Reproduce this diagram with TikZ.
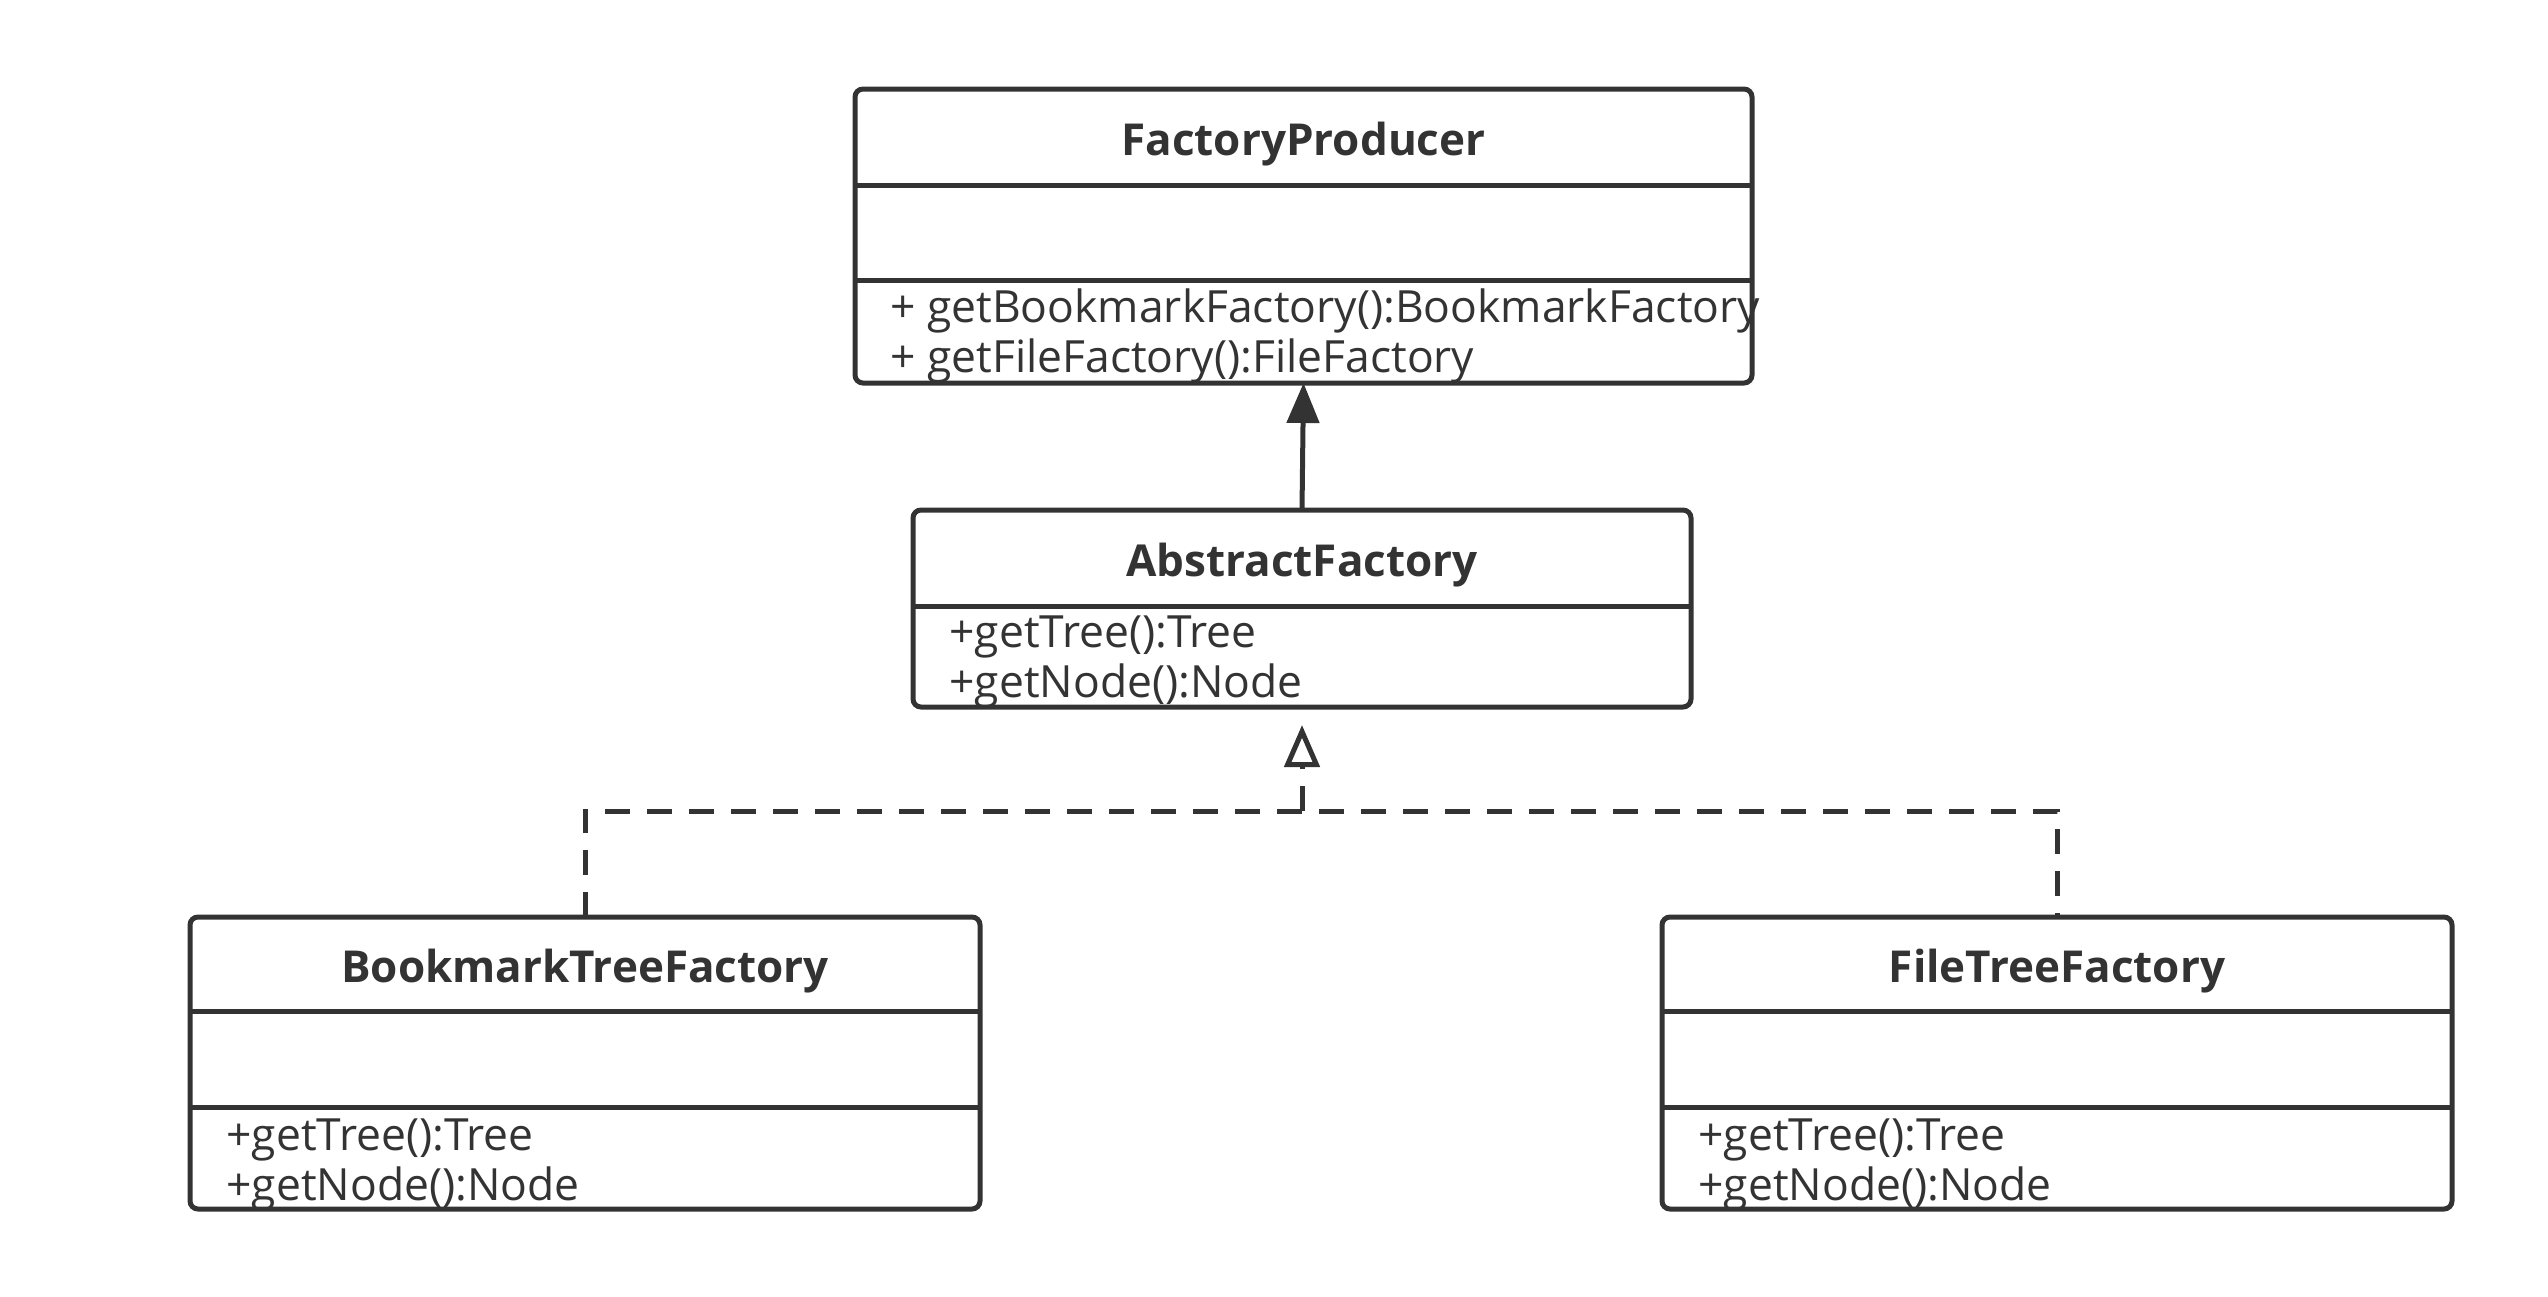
\documentclass[tikz,border=0pt]{standalone}
\usepackage{fontspec}
\setmainfont{Open Sans}
\usetikzlibrary{arrows.meta}
\definecolor{ink}{HTML}{333333}
\tikzset{
  umlbox/.style={draw=ink, line width=2.5pt, rounded corners=4pt, inner sep=0pt, outer sep=0pt, fill=white},
  divider/.style={draw=ink, line width=2.5pt},
  titletext/.style={anchor=base, inner sep=0pt, text=ink, font=\fontsize{22}{25}\selectfont\bfseries},
  membertext/.style={anchor=base west, inner sep=0pt, text=ink, font=\fontsize{22.2}{25}\selectfont},
  assoc/.style={draw=ink, line width=2.5pt, -{Triangle[length=20pt,width=16pt]}},
  realize/.style={draw=ink, line width=2.5pt, dash pattern=on 12.5pt off 8.5pt},
}
\begin{document}
\begin{tikzpicture}[x=0.5pt,y=-0.5pt]
\useasboundingbox (0,0) rectangle (2548,1296);
% FactoryProducer
\node[umlbox, minimum width=448.5pt, minimum height=147pt] (fp) at (1303.5,236) {};
\draw[divider] (855,185) -- (1752,185);
\draw[divider] (855,280) -- (1752,280);
\node[titletext] (fpt) at (1303.5,155) {FactoryProducer};
\node[membertext] (fpm1) at (890,322) {+ getBookmarkFactory():BookmarkFactory};
\node[membertext] (fpm2) at (890,372) {+ getFileFactory():FileFactory};
% AbstractFactory
\node[umlbox, minimum width=389pt, minimum height=98.5pt] (af) at (1302,608.5) {};
\draw[divider] (913,606) -- (1691,606);
\node[titletext] (aft) at (1302,576) {AbstractFactory};
\node[membertext] (afm1) at (949,647) {+getTree():Tree};
\node[membertext] (afm2) at (949,697) {+getNode():Node};
% BookmarkTreeFactory
\node[umlbox, minimum width=395pt, minimum height=146pt] (btf) at (585,1063) {};
\draw[divider] (190,1011) -- (980,1011);
\draw[divider] (190,1107) -- (980,1107);
\node[titletext] (btft) at (585,982) {BookmarkTreeFactory};
\node[membertext] (btfm1) at (226,1150) {+getTree():Tree};
\node[membertext] (btfm2) at (226,1200) {+getNode():Node};
% FileTreeFactory
\node[umlbox, minimum width=395pt, minimum height=146pt] (ftf) at (2057,1063) {};
\draw[divider] (1662,1011) -- (2452,1011);
\draw[divider] (1662,1107) -- (2452,1107);
\node[titletext] (ftft) at (2057,982) {FileTreeFactory};
\node[membertext] (ftfm1) at (1698,1150) {+getTree():Tree};
\node[membertext] (ftfm2) at (1698,1200) {+getNode():Node};
% connectors
\draw[assoc] (af.north) -- (fp.south);
\coordinate (join) at (1302,811);
\draw[realize] (btf.north) -- (btf.north |- join) -- (ftf.north |- join) -- (ftf.north);
\draw[realize, -{Triangle[open, length=21pt, width=17.5pt]}, shorten >=9pt] (join) -- (af.south);
\end{tikzpicture}
\end{document}
